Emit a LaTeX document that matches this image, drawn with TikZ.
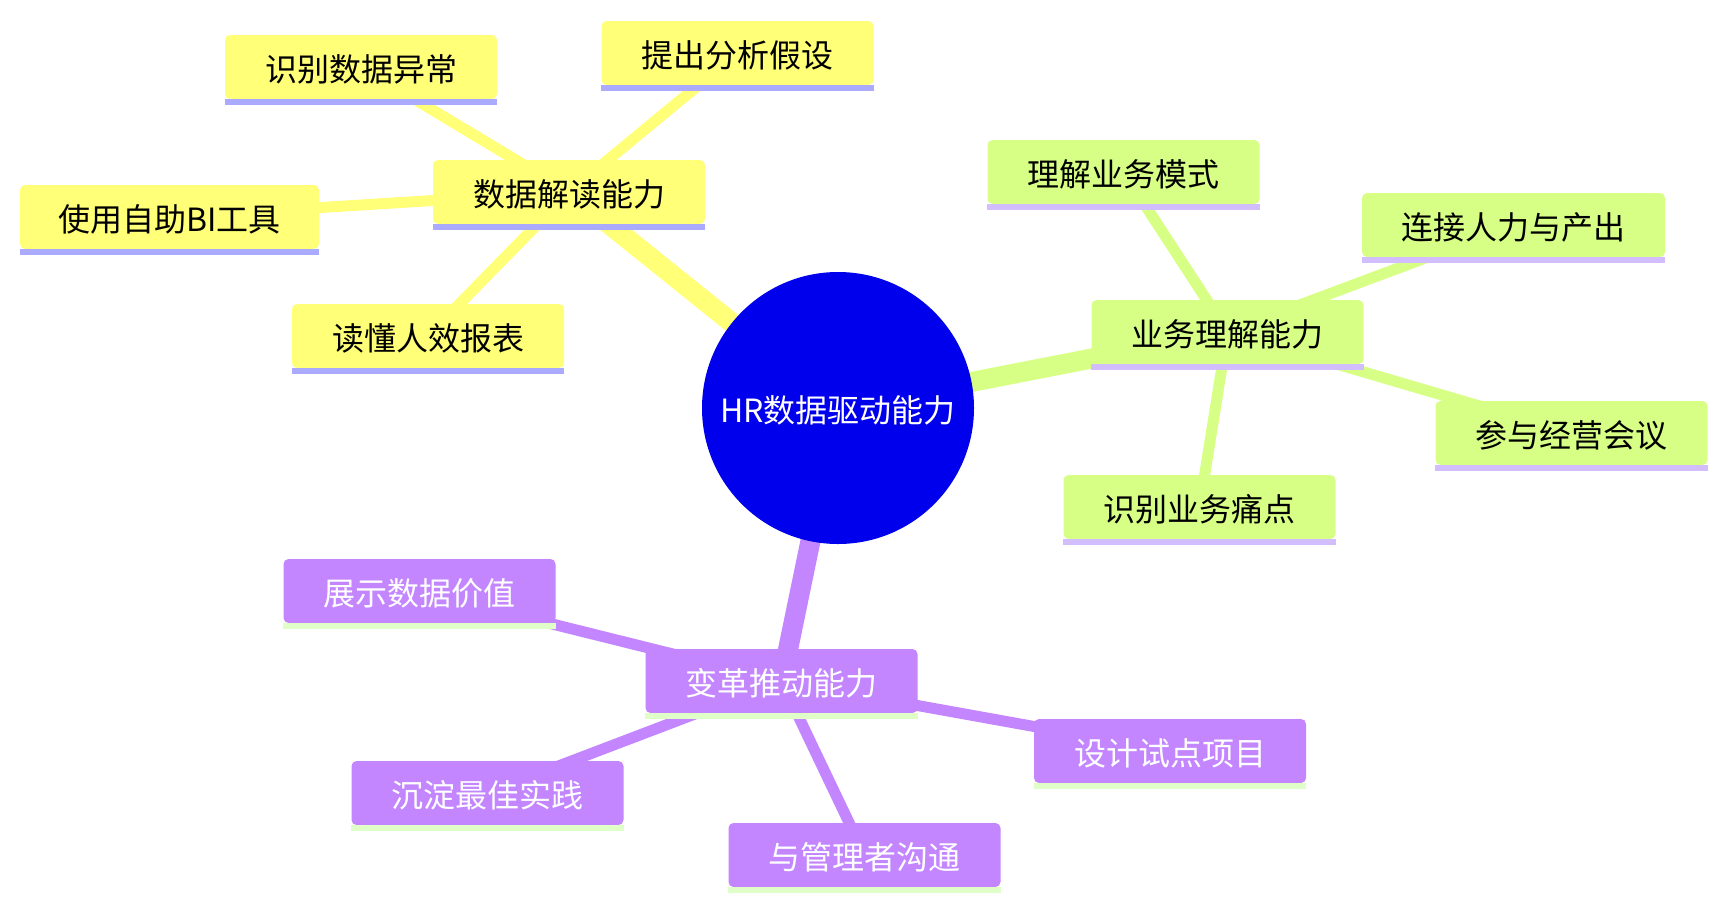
\documentclass[tikz,border=0pt]{standalone}
\usepackage{fontspec}
\newfontfamily\cjk{Noto Sans CJK SC}
\usetikzlibrary{backgrounds}
\definecolor{rootfill}{HTML}{0000EC}
\definecolor{yfill}{HTML}{FFFF78}
\definecolor{yline}{HTML}{AAAAFF}
\definecolor{gfill}{HTML}{D7FF86}
\definecolor{gline}{HTML}{D2BEFF}
\definecolor{pfill}{HTML}{C386FF}
\definecolor{pline}{HTML}{E0FFC8}
\newcommand{\nodebar}[2]{\fill[fill=#2] (#1.south west) rectangle ([yshift=-6pt]#1.south east);}
\begin{document}
\begin{tikzpicture}[x=1pt,y=-1pt,
  box/.style={rounded corners=5pt, minimum height=64pt, minimum width=272pt,
    inner xsep=0pt, inner ysep=0pt, text height=30pt, text depth=1pt,
    font=\cjk\fontsize{32pt}{38pt}\selectfont},
  ybox/.style={box, fill=yfill, text=black},
  gbox/.style={box, fill=gfill, text=black},
  pbox/.style={box, fill=pfill, text=white},
  rootnode/.style={circle, fill=rootfill, text=white, minimum size=272pt, inner sep=0pt,
    text height=30pt, text depth=1pt, font=\cjk\fontsize{32pt}{38pt}\selectfont},
  mainedge/.style={line width=20pt},
  subedge/.style={line width=11pt}
]
\useasboundingbox (0,0) rectangle (1727,911);

% root
\node[rootnode] (root) at (838,408) {HR数据驱动能力};

% yellow branch
\node[ybox] (A) at (569,192) {数据解读能力};
\node[ybox] (A1) at (361,67) {识别数据异常};
\node[ybox] (A2) at (737.5,53) {提出分析假设};
\node[ybox, minimum width=299pt] (A3) at (169.5,217) {使用自助BI工具};
\node[ybox] (A4) at (428,336) {读懂人效报表};

% green branch
\node[gbox] (B) at (1227.5,332) {业务理解能力};
\node[gbox] (B1) at (1123.5,172) {理解业务模式};
\node[gbox, minimum width=303pt] (B2) at (1513.5,225) {连接人力与产出};
\node[gbox] (B3) at (1571.5,433) {参与经营会议};
\node[gbox] (B4) at (1199.5,507) {识别业务痛点};

% purple branch
\node[pbox] (C) at (781.5,681) {变革推动能力};
\node[pbox] (C1) at (419.5,591) {展示数据价值};
\node[pbox] (C2) at (487.5,793) {沉淀最佳实践};
\node[pbox] (C3) at (864.5,855) {与管理者沟通};
\node[pbox] (C4) at (1170,751) {设计试点项目};

% bars under the nodes
\nodebar{A}{yline}\nodebar{A1}{yline}\nodebar{A2}{yline}\nodebar{A3}{yline}\nodebar{A4}{yline}
\nodebar{B}{gline}\nodebar{B1}{gline}\nodebar{B2}{gline}\nodebar{B3}{gline}\nodebar{B4}{gline}
\nodebar{C}{pline}\nodebar{C1}{pline}\nodebar{C2}{pline}\nodebar{C3}{pline}\nodebar{C4}{pline}

% edges
\begin{scope}[on background layer]
  \draw[mainedge, yfill] (root.center) -- (A.center);
  \draw[mainedge, gfill] (root.center) -- (B.center);
  \draw[mainedge, pfill] (root.center) -- (C.center);
  \foreach \n in {A1,A2,A3,A4} \draw[subedge, yfill] (A.center) -- (\n.center);
  \foreach \n in {B1,B2,B3,B4} \draw[subedge, gfill] (B.center) -- (\n.center);
  \foreach \n in {C1,C2,C3,C4} \draw[subedge, pfill] (C.center) -- (\n.center);
\end{scope}
\end{tikzpicture}
\end{document}
